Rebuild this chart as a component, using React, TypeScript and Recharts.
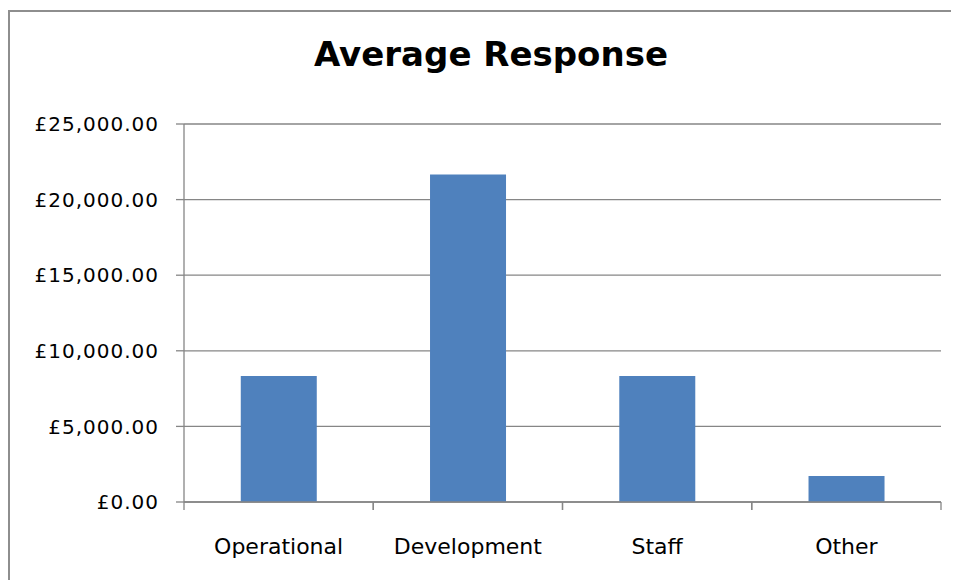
import { BarChart, Bar, XAxis, YAxis, CartesianGrid } from 'recharts'

const categories = ['Operational', 'Development', 'Staff', 'Other']
const averages = [8333, 21667, 8333, 1720]
const yTicks = [0, 5000, 10000, 15000, 20000, 25000]

const data = categories.map((name, i) => ({ name, value: averages[i] }))

const fmtPound = (v: number) =>
  '£' + v.toLocaleString('en-GB', { minimumFractionDigits: 2, maximumFractionDigits: 2 })

const axisGray = '#868686'
const font = '"DejaVu Sans", sans-serif'

// category label in the middle, tick marks on the band edges (Excel style)
function CategoryTick(props: any) {
  const { x, y, payload } = props
  const half = payload.offset || 0
  return (
    <g>
      <line x1={x - half} x2={x - half} y1={y} y2={y + 8} stroke={axisGray} strokeWidth={1.3} />
      <line x1={x + half} x2={x + half} y1={y} y2={y + 8} stroke={axisGray} strokeWidth={1.3} />
      <text x={x} y={y + 52} textAnchor="middle" fill="#000" fontSize={22} fontFamily={font}>
        {payload.value}
      </text>
    </g>
  )
}

export default function App() {
  return (
    <div style={{ position: 'relative', width: 951, height: 572, overflow: 'hidden', background: '#fff' }}>
      <style>{'body{overflow:hidden}'}</style>
      {/* chart frame: only the top and left edges are in view */}
      <svg width={951} height={572} style={{ position: 'absolute', left: 0, top: 0 }}>
        <line x1={0} x2={951} y1={3} y2={3} stroke="#8e8e8e" strokeWidth={2} />
        <line x1={1} x2={1} y1={2} y2={572} stroke="#8e8e8e" strokeWidth={2} />
      </svg>
      <div
        style={{
          position: 'absolute',
          left: 293,
          top: 26,
          width: 380,
          textAlign: 'center',
          fontFamily: font,
          fontWeight: 'bold',
          fontSize: 34,
          color: '#000',
        }}
      >
        Average Response
      </div>
      <BarChart
        width={951}
        height={572}
        data={data}
        margin={{ top: 116, right: 18, bottom: 18, left: 0 }}
        barCategoryGap="30%"
        style={{ position: 'absolute', left: 0, top: 0 }}
      >
        <CartesianGrid vertical={false} stroke={axisGray} strokeWidth={1.3} />
        <XAxis
          dataKey="name"
          height={60}
          axisLine={{ stroke: axisGray, strokeWidth: 1.3 }}
          tickLine={false}
          tickSize={0}
          tickMargin={0}
          interval={0}
          tick={<CategoryTick />}
        />
        <YAxis
          width={176}
          domain={[0, 25000]}
          ticks={yTicks}
          tickFormatter={fmtPound}
          axisLine={{ stroke: axisGray, strokeWidth: 1.3 }}
          tickLine={{ stroke: axisGray, strokeWidth: 1.3 }}
          tickSize={8}
          tickMargin={17}
          tick={{ fill: '#000', fontSize: 20, fontFamily: font, letterSpacing: 1 }}
        />
        <Bar dataKey="value" fill="#4F81BD" isAnimationActive={false} />
      </BarChart>
    </div>
  )
}
